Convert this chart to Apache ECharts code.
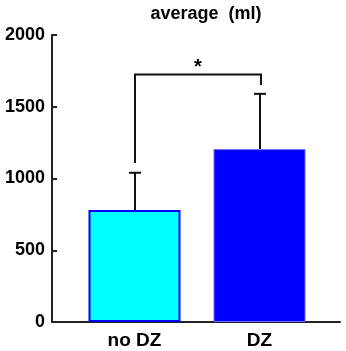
<!DOCTYPE html>
<html>
<head>
<meta charset="utf-8">
<script src="https://cdn.jsdelivr.net/npm/echarts@6/dist/echarts.min.js"></script>
<style>
  html, body { margin: 0; padding: 0; background: #fff; }
  #main { width: 346px; height: 351px; }
</style>
</head>
<body>
<div id="main"></div>
<script>
// data
var categories = ['no DZ', 'DZ'];
var means = [780, 1205];
var errorTops = [1040, 1590];
var yTicks = [0, 500, 1000, 1500, 2000];
// significance bracket: top level, left foot, right foot
var bracketTop = 1725;
var bracketFeet = [1108, 1652];
var bracketMark = '*';

var font = '"Liberation Sans", Arial, sans-serif';
var barColors = ['#00ffff', '#0000ff'];
var barBorders = ['#0000ff', '#6a6aff'];

var chart = echarts.init(document.getElementById('main'));

var barData = means.map(function (v, i) {
  return {
    value: [i + 1, v],
    itemStyle: { color: barColors[i], borderColor: barBorders[i], borderWidth: i === 0 ? 2 : 1 }
  };
});
var errData = means.map(function (v, i) { return [i + 1, v, errorTops[i]]; });

chart.setOption({
  animation: false,
  title: {
    text: 'average  (ml)',
    left: 201,
    top: 0,
    textAlign: 'center',
    textStyle: { fontFamily: font, fontWeight: 'bold', fontSize: 18, color: '#000' }
  },
  grid: { left: 52, right: 6, top: 35, bottom: 29 },
  xAxis: {
    type: 'value',
    min: 0.34,
    max: 2.644,
    splitLine: { show: false },
    axisTick: { show: false },
    axisLine: { lineStyle: { color: '#222', width: 2 } },
    axisLabel: {
      customValues: [1, 2],
      margin: 9,
      fontFamily: font,
      fontWeight: 'bold',
      fontSize: 19,
      color: '#000',
      formatter: function (v) { return categories[Math.round(v) - 1] || ''; }
    }
  },
  yAxis: {
    type: 'value',
    min: yTicks[0],
    max: yTicks[yTicks.length - 1],
    interval: 500,
    splitLine: { show: false },
    axisLine: { show: true, lineStyle: { color: '#222', width: 2 } },
    axisTick: { show: true, inside: true, length: 5, lineStyle: { color: '#222', width: 2 } },
    axisLabel: {
      margin: 7,
      fontFamily: font,
      fontWeight: 'bold',
      fontSize: 18,
      color: '#000',
      formatter: function (v) { return String(v); }
    }
  },
  series: [
    {
      type: 'bar',
      barWidth: 92,
      data: barData,
      z: 2
    },
    {
      // error bars (upper only)
      type: 'custom',
      z: 3,
      data: errData,
      renderItem: function (params, api) {
        var base = api.coord([api.value(0), api.value(1)]);
        var top = api.coord([api.value(0), api.value(2)]);
        var x = Math.round(base[0]);
        return {
          type: 'group',
          children: [
            { type: 'line', shape: { x1: x, y1: base[1], x2: x, y2: top[1] }, style: { stroke: '#111', lineWidth: 2 } },
            { type: 'line', shape: { x1: x - 6, y1: top[1], x2: x + 6, y2: top[1] }, style: { stroke: '#111', lineWidth: 2 } }
          ]
        };
      }
    },
    {
      // significance bracket
      type: 'custom',
      z: 3,
      data: [[1, 2, bracketTop, bracketFeet[0], bracketFeet[1]]],
      renderItem: function (params, api) {
        var pLeftFoot = api.coord([api.value(0), api.value(3)]);
        var pLeftTop = api.coord([api.value(0), api.value(2)]);
        var pRightTop = api.coord([api.value(1), api.value(2)]);
        var pRightFoot = api.coord([api.value(1), api.value(4)]);
        var xl = Math.round(pLeftFoot[0]), xr = Math.round(pRightFoot[0]) + 1;
        return {
          type: 'group',
          children: [
            {
              type: 'polyline',
              shape: { points: [[xl, pLeftFoot[1]], [xl, pLeftTop[1]], [xr, pRightTop[1]], [xr, pRightFoot[1]]] },
              style: { stroke: '#111', lineWidth: 2, fill: null }
            },
            {
              type: 'text',
              style: {
                text: bracketMark,
                x: (xl + xr) / 2,
                y: pLeftTop[1] + 3,
                align: 'center',
                verticalAlign: 'bottom',
                fontFamily: font,
                fontWeight: 'bold',
                fontSize: 20,
                fill: '#000'
              }
            }
          ]
        };
      }
    }
  ]
});
</script>
</body>
</html>
